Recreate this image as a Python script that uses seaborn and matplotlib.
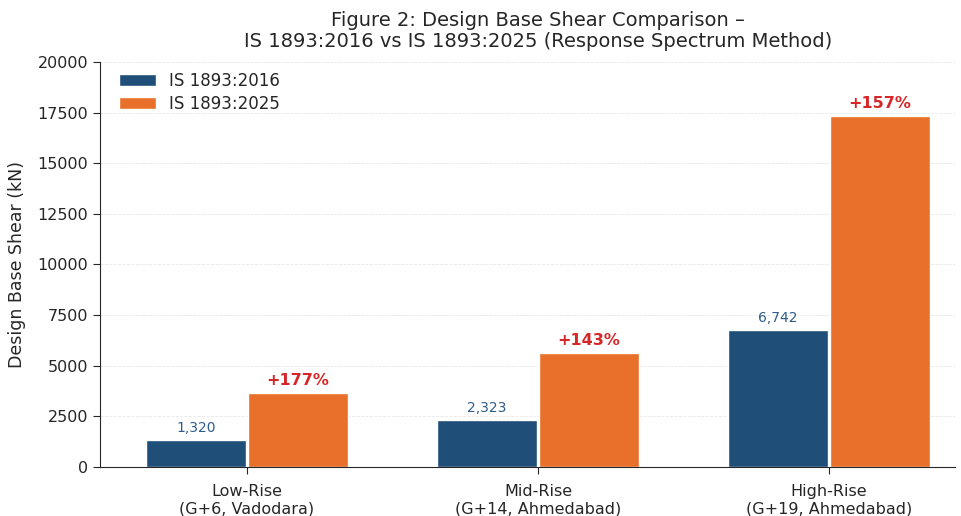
import pandas as pd
import matplotlib
matplotlib.use("Agg")
import matplotlib.pyplot as plt
import seaborn as sns

# Chart data
categories = ["Low-Rise\n(G+6, Vadodara)", "Mid-Rise\n(G+14, Ahmedabad)", "High-Rise\n(G+19, Ahmedabad)"]
codes = ["IS 1893:2016", "IS 1893:2025"]
shear_2016 = [1320, 2323, 6742]
shear_2025 = [3656, 5645, 17327]
increase_pct = [177, 143, 157]

df = pd.DataFrame({
    "Building": categories * 2,
    "Code": [codes[0]] * 3 + [codes[1]] * 3,
    "Shear": shear_2016 + shear_2025,
})

sns.set_style("white")
plt.rcParams["font.family"] = ["DejaVu Sans"]

fig = plt.figure(figsize=(9.61, 5.16), dpi=100)
ax = fig.add_axes([0.104, 0.095, 0.89, 0.785])

palette = {codes[0]: "#1f4e79", codes[1]: "#e8702a"}
sns.barplot(data=df, x="Building", y="Shear", hue="Code", palette=palette,
            width=0.7, gap=0.02, saturation=1, ax=ax)

ax.set_ylim(0, 20000)
ax.set_xlim(-0.505, 2.433)
ax.set_xlabel("")
ax.set_ylabel("Design Base Shear (kN)", fontsize=12.5, labelpad=8)
ax.tick_params(axis="both", labelsize=11.5, length=5, left=True, bottom=True)
ax.tick_params(axis="x", pad=7)
ax.yaxis.grid(True, linestyle="--", color="#dddddd", linewidth=0.6, alpha=0.7)
ax.set_axisbelow(True)
sns.despine(ax=ax)

fig.suptitle("Figure 2: Design Base Shear Comparison –\nIS 1893:2016 vs IS 1893:2025 (Response Spectrum Method)",
             fontsize=14, x=0.56, y=0.978, linespacing=1.1)

# value labels on 2016 bars, percentage increase on 2025 bars
for bar, v in zip(ax.containers[0], shear_2016):
    ax.text(bar.get_x() + bar.get_width() / 2, v + 250, f"{v:,}",
            ha="center", va="bottom", fontsize=10, color="#2e5d8a")
for bar, v, p in zip(ax.containers[1], shear_2025, increase_pct):
    cx = bar.get_x() + bar.get_width() / 2
    ax.text(cx, v + 250, f"+{p}%", ha="center", va="bottom", fontsize=11.5,
            fontweight="bold", color="#d62728")

ax.legend(loc="upper left", frameon=False, fontsize=12, handlelength=2.2,
          bbox_to_anchor=(0.005, 1.012), labelspacing=0.3)

fig.savefig("out.png", dpi=100)
